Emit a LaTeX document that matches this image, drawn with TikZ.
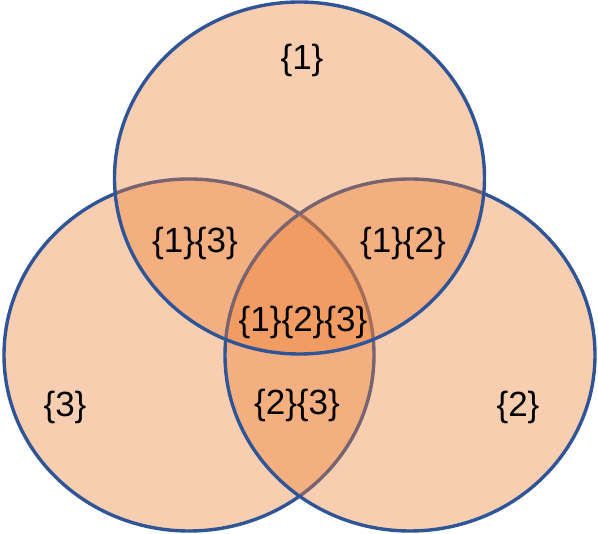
\documentclass[tikz,border=0pt]{standalone}
\usepackage{fontspec}
\setmainfont{Liberation Sans}
\definecolor{vennfill}{HTML}{ED7D31}
\definecolor{vennline}{HTML}{2F5597}
\begin{document}
\begin{tikzpicture}[x=1pt,y=-1pt,
  setshape/.style={fill=vennfill,fill opacity=0.38,draw=vennline,draw opacity=1,line width=3.4pt},
  lbl/.style={font=\fontsize{35}{40}\selectfont,text=black,inner sep=0pt}]
\useasboundingbox (0,0) rectangle (598,534);
\coordinate (c3) at (189,355);
\coordinate (c2) at (410,355);
\coordinate (c1) at (299.5,178);
\path[setshape] (c3) ellipse [x radius=185pt, y radius=176pt];
\path[setshape] (c2) ellipse [x radius=185pt, y radius=176pt];
\path[setshape] (c1) ellipse [x radius=185pt, y radius=176pt];
\node[lbl] (n1) at (302,60) {\{1\}};
\node[lbl] (n13) at (195,243) {\{1\}\{3\}};
\node[lbl] (n12) at (403,243) {\{1\}\{2\}};
\node[lbl] (n123) at (303,322) {\{1\}\{2\}\{3\}};
\node[lbl] (n3) at (65,407) {\{3\}};
\node[lbl] (n23) at (297,405) {\{2\}\{3\}};
\node[lbl] (n2) at (518,407) {\{2\}};
\end{tikzpicture}
\end{document}
